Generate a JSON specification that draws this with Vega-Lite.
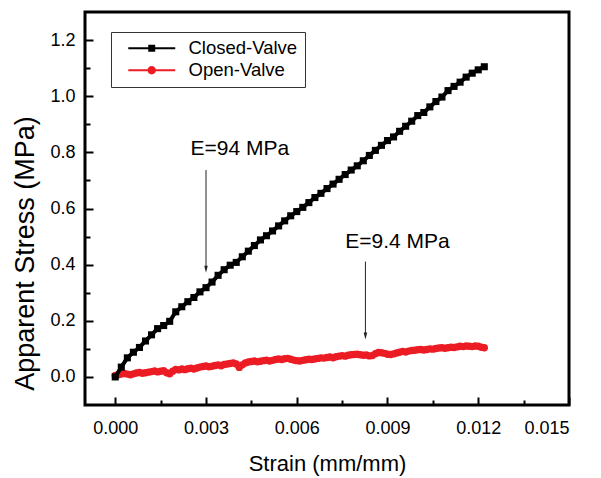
{
  "$schema": "https://vega.github.io/schema/vega-lite/v6.json",
  "width": 484,
  "height": 393,
  "autosize": "none",
  "padding": {"left": 85, "top": 12, "right": 32, "bottom": 73},
  "background": "#ffffff",
  "config": {
    "view": {"stroke": "#000000", "strokeWidth": 3},
    "axis": {
      "domain": false,
      "grid": false,
      "tickColor": "#000000",
      "tickWidth": 2,
      "labelFont": "Liberation Sans",
      "labelColor": "#000000",
      "titleFont": "Liberation Sans",
      "titleColor": "#000000",
      "titleFontWeight": "normal"
    }
  },
  "datasets": {
    "curves": [
      {"series": "Closed-Valve", "strain": 0, "stress": 0},
      {"series": "Closed-Valve", "strain": 0.0002, "stress": 0.035},
      {"series": "Closed-Valve", "strain": 0.0004, "stress": 0.068},
      {"series": "Closed-Valve", "strain": 0.0006, "stress": 0.088},
      {"series": "Closed-Valve", "strain": 0.0008, "stress": 0.105},
      {"series": "Closed-Valve", "strain": 0.001, "stress": 0.128},
      {"series": "Closed-Valve", "strain": 0.0012, "stress": 0.15},
      {"series": "Closed-Valve", "strain": 0.0014, "stress": 0.172},
      {"series": "Closed-Valve", "strain": 0.0016, "stress": 0.183},
      {"series": "Closed-Valve", "strain": 0.0018, "stress": 0.198},
      {"series": "Closed-Valve", "strain": 0.002, "stress": 0.232},
      {"series": "Closed-Valve", "strain": 0.0022, "stress": 0.25},
      {"series": "Closed-Valve", "strain": 0.0024, "stress": 0.268},
      {"series": "Closed-Valve", "strain": 0.0026, "stress": 0.283},
      {"series": "Closed-Valve", "strain": 0.0028, "stress": 0.303},
      {"series": "Closed-Valve", "strain": 0.003, "stress": 0.318},
      {"series": "Closed-Valve", "strain": 0.0032, "stress": 0.338},
      {"series": "Closed-Valve", "strain": 0.0034, "stress": 0.362},
      {"series": "Closed-Valve", "strain": 0.0036, "stress": 0.382},
      {"series": "Closed-Valve", "strain": 0.0038, "stress": 0.398},
      {"series": "Closed-Valve", "strain": 0.004, "stress": 0.408},
      {"series": "Closed-Valve", "strain": 0.0042, "stress": 0.428},
      {"series": "Closed-Valve", "strain": 0.0044, "stress": 0.448},
      {"series": "Closed-Valve", "strain": 0.0046, "stress": 0.468},
      {"series": "Closed-Valve", "strain": 0.0048, "stress": 0.488},
      {"series": "Closed-Valve", "strain": 0.005, "stress": 0.503},
      {"series": "Closed-Valve", "strain": 0.0052, "stress": 0.52},
      {"series": "Closed-Valve", "strain": 0.0054, "stress": 0.538},
      {"series": "Closed-Valve", "strain": 0.0056, "stress": 0.556},
      {"series": "Closed-Valve", "strain": 0.0058, "stress": 0.574},
      {"series": "Closed-Valve", "strain": 0.006, "stress": 0.589},
      {"series": "Closed-Valve", "strain": 0.0062, "stress": 0.604},
      {"series": "Closed-Valve", "strain": 0.0064, "stress": 0.621},
      {"series": "Closed-Valve", "strain": 0.0066, "stress": 0.639},
      {"series": "Closed-Valve", "strain": 0.0068, "stress": 0.654},
      {"series": "Closed-Valve", "strain": 0.007, "stress": 0.671},
      {"series": "Closed-Valve", "strain": 0.0072, "stress": 0.687},
      {"series": "Closed-Valve", "strain": 0.0074, "stress": 0.704},
      {"series": "Closed-Valve", "strain": 0.0076, "stress": 0.721},
      {"series": "Closed-Valve", "strain": 0.0078, "stress": 0.737},
      {"series": "Closed-Valve", "strain": 0.008, "stress": 0.752},
      {"series": "Closed-Valve", "strain": 0.0082, "stress": 0.77},
      {"series": "Closed-Valve", "strain": 0.0084, "stress": 0.789},
      {"series": "Closed-Valve", "strain": 0.0086, "stress": 0.807},
      {"series": "Closed-Valve", "strain": 0.0088, "stress": 0.825},
      {"series": "Closed-Valve", "strain": 0.009, "stress": 0.842},
      {"series": "Closed-Valve", "strain": 0.0092, "stress": 0.855},
      {"series": "Closed-Valve", "strain": 0.0094, "stress": 0.875},
      {"series": "Closed-Valve", "strain": 0.0096, "stress": 0.893},
      {"series": "Closed-Valve", "strain": 0.0098, "stress": 0.911},
      {"series": "Closed-Valve", "strain": 0.01, "stress": 0.931},
      {"series": "Closed-Valve", "strain": 0.0102, "stress": 0.942},
      {"series": "Closed-Valve", "strain": 0.0104, "stress": 0.962},
      {"series": "Closed-Valve", "strain": 0.0106, "stress": 0.981},
      {"series": "Closed-Valve", "strain": 0.0108, "stress": 0.997},
      {"series": "Closed-Valve", "strain": 0.011, "stress": 1.02},
      {"series": "Closed-Valve", "strain": 0.0112, "stress": 1.035},
      {"series": "Closed-Valve", "strain": 0.0114, "stress": 1.05},
      {"series": "Closed-Valve", "strain": 0.0116, "stress": 1.068},
      {"series": "Closed-Valve", "strain": 0.0118, "stress": 1.082},
      {"series": "Closed-Valve", "strain": 0.012, "stress": 1.094},
      {"series": "Closed-Valve", "strain": 0.0122, "stress": 1.105},
      {"series": "Open-Valve", "strain": 0, "stress": 0.005},
      {"series": "Open-Valve", "strain": 0.0001, "stress": 0.008},
      {"series": "Open-Valve", "strain": 0.0002, "stress": 0.01},
      {"series": "Open-Valve", "strain": 0.0003, "stress": 0.012},
      {"series": "Open-Valve", "strain": 0.0004, "stress": 0.01},
      {"series": "Open-Valve", "strain": 0.0005, "stress": 0.008},
      {"series": "Open-Valve", "strain": 0.0006, "stress": 0.011},
      {"series": "Open-Valve", "strain": 0.0007, "stress": 0.014},
      {"series": "Open-Valve", "strain": 0.0008, "stress": 0.016},
      {"series": "Open-Valve", "strain": 0.0009, "stress": 0.013},
      {"series": "Open-Valve", "strain": 0.001, "stress": 0.015},
      {"series": "Open-Valve", "strain": 0.0011, "stress": 0.017},
      {"series": "Open-Valve", "strain": 0.0012, "stress": 0.019},
      {"series": "Open-Valve", "strain": 0.0013, "stress": 0.021},
      {"series": "Open-Valve", "strain": 0.0014, "stress": 0.018},
      {"series": "Open-Valve", "strain": 0.0015, "stress": 0.02},
      {"series": "Open-Valve", "strain": 0.0016, "stress": 0.022},
      {"series": "Open-Valve", "strain": 0.0017, "stress": 0.015},
      {"series": "Open-Valve", "strain": 0.0018, "stress": 0.011},
      {"series": "Open-Valve", "strain": 0.0019, "stress": 0.02},
      {"series": "Open-Valve", "strain": 0.002, "stress": 0.027},
      {"series": "Open-Valve", "strain": 0.0021, "stress": 0.025},
      {"series": "Open-Valve", "strain": 0.0022, "stress": 0.028},
      {"series": "Open-Valve", "strain": 0.0023, "stress": 0.026},
      {"series": "Open-Valve", "strain": 0.0024, "stress": 0.029},
      {"series": "Open-Valve", "strain": 0.0025, "stress": 0.031},
      {"series": "Open-Valve", "strain": 0.0026, "stress": 0.028},
      {"series": "Open-Valve", "strain": 0.0027, "stress": 0.032},
      {"series": "Open-Valve", "strain": 0.0028, "stress": 0.035},
      {"series": "Open-Valve", "strain": 0.0029, "stress": 0.037},
      {"series": "Open-Valve", "strain": 0.003, "stress": 0.039},
      {"series": "Open-Valve", "strain": 0.0031, "stress": 0.036},
      {"series": "Open-Valve", "strain": 0.0032, "stress": 0.038},
      {"series": "Open-Valve", "strain": 0.0033, "stress": 0.041},
      {"series": "Open-Valve", "strain": 0.0034, "stress": 0.043},
      {"series": "Open-Valve", "strain": 0.0035, "stress": 0.04},
      {"series": "Open-Valve", "strain": 0.0036, "stress": 0.044},
      {"series": "Open-Valve", "strain": 0.0037, "stress": 0.046},
      {"series": "Open-Valve", "strain": 0.0038, "stress": 0.048},
      {"series": "Open-Valve", "strain": 0.0039, "stress": 0.05},
      {"series": "Open-Valve", "strain": 0.004, "stress": 0.046},
      {"series": "Open-Valve", "strain": 0.0041, "stress": 0.034},
      {"series": "Open-Valve", "strain": 0.0042, "stress": 0.043},
      {"series": "Open-Valve", "strain": 0.0043, "stress": 0.05},
      {"series": "Open-Valve", "strain": 0.0044, "stress": 0.053},
      {"series": "Open-Valve", "strain": 0.0045, "stress": 0.055},
      {"series": "Open-Valve", "strain": 0.0046, "stress": 0.057},
      {"series": "Open-Valve", "strain": 0.0047, "stress": 0.054},
      {"series": "Open-Valve", "strain": 0.0048, "stress": 0.056},
      {"series": "Open-Valve", "strain": 0.0049, "stress": 0.058},
      {"series": "Open-Valve", "strain": 0.005, "stress": 0.06},
      {"series": "Open-Valve", "strain": 0.0051, "stress": 0.057},
      {"series": "Open-Valve", "strain": 0.0052, "stress": 0.059},
      {"series": "Open-Valve", "strain": 0.0053, "stress": 0.062},
      {"series": "Open-Valve", "strain": 0.0054, "stress": 0.064},
      {"series": "Open-Valve", "strain": 0.0055, "stress": 0.062},
      {"series": "Open-Valve", "strain": 0.0056, "stress": 0.065},
      {"series": "Open-Valve", "strain": 0.0057, "stress": 0.066},
      {"series": "Open-Valve", "strain": 0.0058, "stress": 0.063},
      {"series": "Open-Valve", "strain": 0.0059, "stress": 0.06},
      {"series": "Open-Valve", "strain": 0.006, "stress": 0.058},
      {"series": "Open-Valve", "strain": 0.0061, "stress": 0.057},
      {"series": "Open-Valve", "strain": 0.0062, "stress": 0.059},
      {"series": "Open-Valve", "strain": 0.0063, "stress": 0.061},
      {"series": "Open-Valve", "strain": 0.0064, "stress": 0.063},
      {"series": "Open-Valve", "strain": 0.0065, "stress": 0.062},
      {"series": "Open-Valve", "strain": 0.0066, "stress": 0.064},
      {"series": "Open-Valve", "strain": 0.0067, "stress": 0.066},
      {"series": "Open-Valve", "strain": 0.0068, "stress": 0.068},
      {"series": "Open-Valve", "strain": 0.0069, "stress": 0.067},
      {"series": "Open-Valve", "strain": 0.007, "stress": 0.069},
      {"series": "Open-Valve", "strain": 0.0071, "stress": 0.071},
      {"series": "Open-Valve", "strain": 0.0072, "stress": 0.068},
      {"series": "Open-Valve", "strain": 0.0073, "stress": 0.072},
      {"series": "Open-Valve", "strain": 0.0074, "stress": 0.074},
      {"series": "Open-Valve", "strain": 0.0075, "stress": 0.076},
      {"series": "Open-Valve", "strain": 0.0076, "stress": 0.074},
      {"series": "Open-Valve", "strain": 0.0077, "stress": 0.077},
      {"series": "Open-Valve", "strain": 0.0078, "stress": 0.079},
      {"series": "Open-Valve", "strain": 0.0079, "stress": 0.08},
      {"series": "Open-Valve", "strain": 0.008, "stress": 0.081},
      {"series": "Open-Valve", "strain": 0.0081, "stress": 0.079},
      {"series": "Open-Valve", "strain": 0.0082, "stress": 0.077},
      {"series": "Open-Valve", "strain": 0.0083, "stress": 0.078},
      {"series": "Open-Valve", "strain": 0.0084, "stress": 0.075},
      {"series": "Open-Valve", "strain": 0.0085, "stress": 0.076},
      {"series": "Open-Valve", "strain": 0.0086, "stress": 0.083},
      {"series": "Open-Valve", "strain": 0.0087, "stress": 0.087},
      {"series": "Open-Valve", "strain": 0.0088, "stress": 0.086},
      {"series": "Open-Valve", "strain": 0.0089, "stress": 0.084},
      {"series": "Open-Valve", "strain": 0.009, "stress": 0.081},
      {"series": "Open-Valve", "strain": 0.0091, "stress": 0.08},
      {"series": "Open-Valve", "strain": 0.0092, "stress": 0.082},
      {"series": "Open-Valve", "strain": 0.0093, "stress": 0.085},
      {"series": "Open-Valve", "strain": 0.0094, "stress": 0.088},
      {"series": "Open-Valve", "strain": 0.0095, "stress": 0.091},
      {"series": "Open-Valve", "strain": 0.0096, "stress": 0.089},
      {"series": "Open-Valve", "strain": 0.0097, "stress": 0.092},
      {"series": "Open-Valve", "strain": 0.0098, "stress": 0.094},
      {"series": "Open-Valve", "strain": 0.0099, "stress": 0.095},
      {"series": "Open-Valve", "strain": 0.01, "stress": 0.097},
      {"series": "Open-Valve", "strain": 0.0101, "stress": 0.098},
      {"series": "Open-Valve", "strain": 0.0102, "stress": 0.096},
      {"series": "Open-Valve", "strain": 0.0103, "stress": 0.098},
      {"series": "Open-Valve", "strain": 0.0104, "stress": 0.1},
      {"series": "Open-Valve", "strain": 0.0105, "stress": 0.099},
      {"series": "Open-Valve", "strain": 0.0106, "stress": 0.101},
      {"series": "Open-Valve", "strain": 0.0107, "stress": 0.103},
      {"series": "Open-Valve", "strain": 0.0108, "stress": 0.104},
      {"series": "Open-Valve", "strain": 0.0109, "stress": 0.102},
      {"series": "Open-Valve", "strain": 0.011, "stress": 0.104},
      {"series": "Open-Valve", "strain": 0.0111, "stress": 0.106},
      {"series": "Open-Valve", "strain": 0.0112, "stress": 0.105},
      {"series": "Open-Valve", "strain": 0.0113, "stress": 0.107},
      {"series": "Open-Valve", "strain": 0.0114, "stress": 0.109},
      {"series": "Open-Valve", "strain": 0.0115, "stress": 0.108},
      {"series": "Open-Valve", "strain": 0.0116, "stress": 0.11},
      {"series": "Open-Valve", "strain": 0.0117, "stress": 0.109},
      {"series": "Open-Valve", "strain": 0.0118, "stress": 0.108},
      {"series": "Open-Valve", "strain": 0.0119, "stress": 0.11},
      {"series": "Open-Valve", "strain": 0.012, "stress": 0.109},
      {"series": "Open-Valve", "strain": 0.0121, "stress": 0.106},
      {"series": "Open-Valve", "strain": 0.0122, "stress": 0.104}
    ],
    "notes": [
      {"label": "E=94 MPa", "tx": 0.00412, "ty": 0.812, "ax": 0.003, "top": 0.737, "head": 0.384},
      {"label": "E=9.4 MPa", "tx": 0.00933, "ty": 0.482, "ax": 0.00827, "top": 0.411, "head": 0.146}
    ]
  },
  "resolve": {"axis": {"x": "independent", "y": "independent"}},
  "layer": [
    {
      "data": {"name": "curves"},
      "encoding": {
        "x": {
          "field": "strain", "type": "quantitative",
          "scale": {"domain": [-0.001, 0.015], "nice": false, "zero": false},
          "axis": {
            "orient": "bottom",
            "values": [0, 0.003, 0.006, 0.009, 0.012, 0.015],
            "format": ".3f",
            "tickSize": -8,
            "labelFontSize": 18,
            "labelPadding": 22,
            "title": "Strain (mm/mm)",
            "titleFontSize": 22,
            "titlePadding": 16
          }
        },
        "y": {
          "field": "stress", "type": "quantitative",
          "scale": {"domain": [-0.1, 1.3], "nice": false, "zero": false},
          "axis": {
            "orient": "left",
            "values": [0, 0.2, 0.4, 0.6, 0.8, 1.0, 1.2],
            "format": ".1f",
            "tickSize": -8,
            "labelFontSize": 18,
            "labelPadding": 18,
            "title": "Apparent Stress (MPa)",
            "titleFontSize": 27,
            "titlePadding": 10,
            "titleY": 241
          }
        },
        "color": {
          "field": "series", "type": "nominal",
          "scale": {"domain": ["Closed-Valve", "Open-Valve"], "range": ["#000000", "#ec1c24"]},
          "legend": {
            "orient": "none",
            "legendX": 26,
            "legendY": 20,
            "title": null,
            "padding": 7,
            "strokeColor": "#333333",
            "fillColor": "#ffffff",
            "labelFont": "Liberation Sans",
            "labelFontSize": 18.5,
            "labelColor": "#000000",
            "labelOffset": 52,
            "rowPadding": 3,
            "symbolSize": 144,
            "encode": {
              "symbols": {
                "update": {
                  "shape": {"signal": "datum.value === 'Closed-Valve' ? 'M0.17,-0.17H8V0.17H0.17Z M3.5,-0.58H4.66V0.58H3.5Z' : 'M0.17,-0.17H8V0.17H0.17Z M4.78,0A0.7,0.7,0,1,1,3.38,0A0.7,0.7,0,1,1,4.78,0Z'"},
                  "fill": {"signal": "datum.value === 'Closed-Valve' ? '#000000' : '#ec1c24'"},
                  "stroke": {"value": "transparent"},
                  "strokeWidth": {"value": 0},
                  "size": {"value": 144},
                  "opacity": {"value": 1}
                }
              }
            }
          }
        }
      },
      "layer": [
        {
          "transform": [{"filter": "datum.series === 'Open-Valve'"}],
          "mark": {"type": "line", "strokeWidth": 5, "point": {"shape": "circle", "size": 55, "filled": true, "opacity": 1}}
        },
        {
          "transform": [{"filter": "datum.series === 'Closed-Valve'"}],
          "mark": {"type": "line", "strokeWidth": 4, "point": {"shape": "square", "size": 50, "filled": true, "opacity": 1}}
        }
      ]
    },
    {
      "data": {"name": "notes"},
      "mark": {"type": "text", "font": "Liberation Sans", "fontSize": 21, "color": "#000000", "align": "center", "baseline": "middle"},
      "encoding": {
        "x": {
          "field": "tx", "type": "quantitative",
          "scale": {"domain": [-0.001, 0.015], "nice": false, "zero": false},
          "axis": {"orient": "bottom", "values": [0.0015, 0.0045, 0.0075, 0.0105, 0.0135], "labels": false, "tickSize": -5, "title": null}
        },
        "y": {
          "field": "ty", "type": "quantitative",
          "scale": {"domain": [-0.1, 1.3], "nice": false, "zero": false},
          "axis": {"orient": "left", "values": [0.1, 0.3, 0.5, 0.7, 0.9, 1.1], "labels": false, "tickSize": -5, "title": null}
        },
        "text": {"field": "label"}
      }
    },
    {
      "data": {"name": "notes"},
      "mark": {"type": "rule", "color": "#222222", "strokeWidth": 1},
      "encoding": {
        "x": {"field": "ax", "type": "quantitative", "axis": null},
        "y": {"field": "top", "type": "quantitative", "axis": null},
        "y2": {"field": "head"}
      }
    },
    {
      "data": {"name": "notes"},
      "mark": {"type": "point", "shape": "M-0.5,-1H0.5L0,1Z", "size": 49, "filled": true, "color": "#222222", "opacity": 1},
      "encoding": {
        "x": {"field": "ax", "type": "quantitative", "axis": null},
        "y": {"field": "head", "type": "quantitative", "axis": null}
      }
    }
  ]
}
